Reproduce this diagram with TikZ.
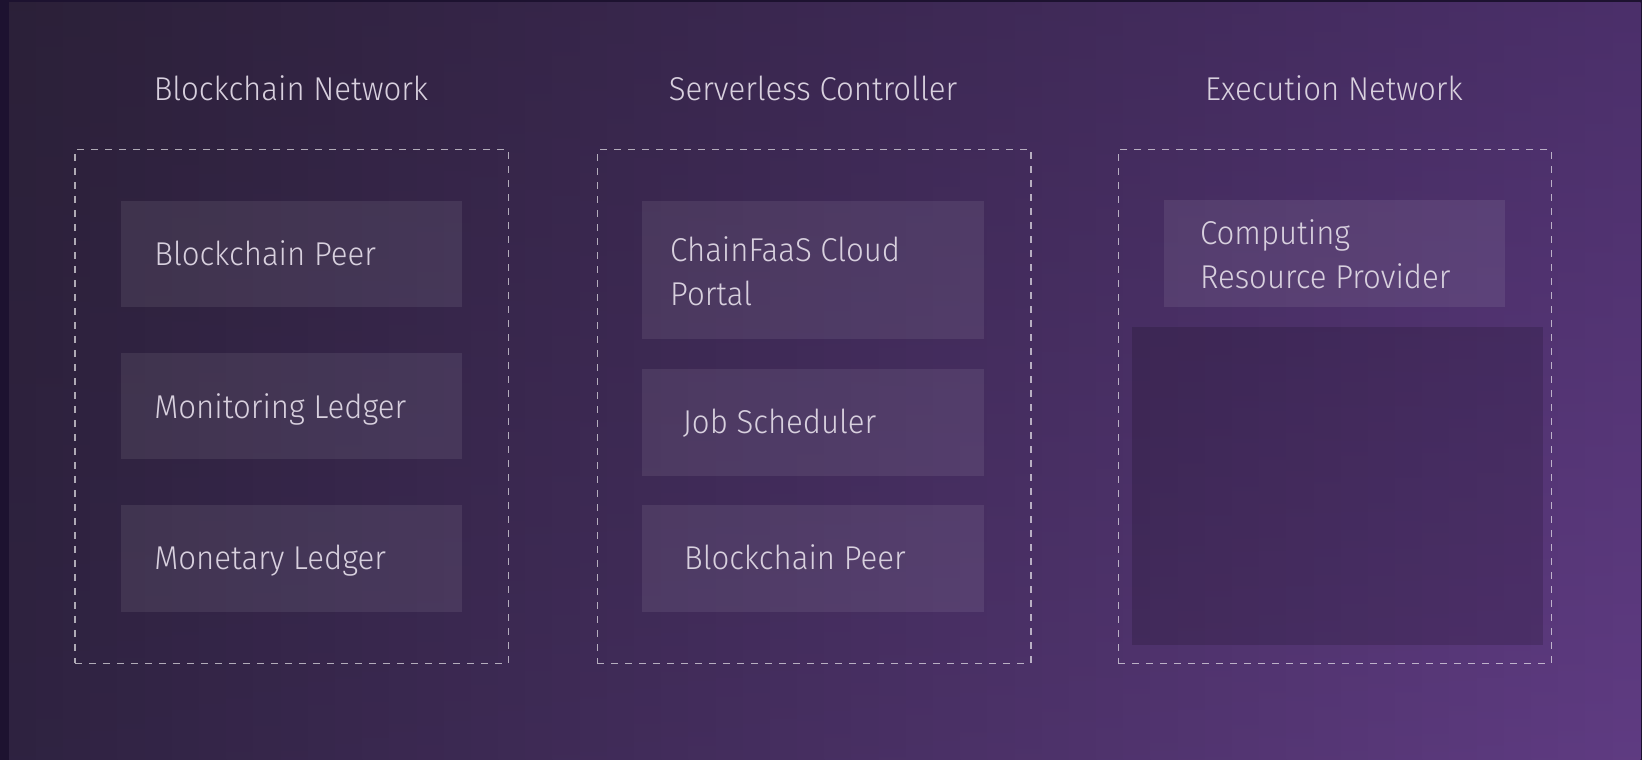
\documentclass[tikz,border=0pt]{standalone}
\usepackage{fontspec}
\setmainfont{Fira Sans Light}[FakeStretch=0.945]
\definecolor{outerbg}{HTML}{1D1230}
\definecolor{bgUL}{HTML}{2B2038}
\definecolor{bgUR}{HTML}{4B2F6A}
\definecolor{bgLL}{HTML}{2E2240}
\definecolor{bgLR}{HTML}{5F3B82}
\definecolor{txt}{HTML}{D8D0DE}
\begin{document}
\begin{tikzpicture}[x=1pt,y=-1pt,
  group/.style={rectangle, draw=white, draw opacity=0.62, line width=1.1pt,
    dash pattern=on 7pt off 7pt, inner sep=0pt, anchor=north west,
    minimum width=433.5pt, minimum height=514.2pt},
  card/.style={rectangle, fill=white, fill opacity=0.08, inner sep=0pt,
    anchor=north west, minimum width=341.7pt},
  darkcard/.style={rectangle, fill=black, fill opacity=0.15, inner sep=0pt,
    anchor=north west},
  lbl/.style={text=txt, inner sep=0pt, anchor=base west,
    font=\fontsize{33}{44}\selectfont},
  ttl/.style={text=txt, inner sep=0pt, anchor=base,
    font=\fontsize{33}{44}\selectfont}]
\useasboundingbox (0,0) rectangle (1642,760);
\fill[outerbg] (0,0) rectangle (1642,760);
% bilinear background gradient built from vertical strips
\foreach \i in {0,...,59}{
  \pgfmathsetmacro{\p}{(\i+0.5)*100/60}
  \pgfmathsetmacro{\xa}{9+\i*27.1833}
  \pgfmathsetmacro{\xb}{9+(\i+1)*27.1833+0.6}
  \colorlet{tc}{bgUR!\p!bgUL}
  \colorlet{bc}{bgLR!\p!bgLL}
  \shade[top color=tc, bottom color=bc] (\xa,3) rectangle (\xb,760);
}

% titles
\node[ttl] (t1) at (291,100.5) {Blockchain Network};
\node[ttl] (t2) at (813,100.5) {Serverless Controller};
\node[ttl] (t3) at (1334,100.5) {Execution Network};

% dashed groups
\node[group] (g1) at (74.4,148.7) {};
\node[group] (g2) at (596.9,148.7) {};
\node[group] (g3) at (1117.5,148.7) {};

% left column
\node[card, minimum height=105.8pt] (b1) at (120.3,201) {};
\node[card, minimum height=106.2pt] (b2) at (120.3,352.8) {};
\node[card, minimum height=106.8pt] (b3) at (120.3,504.8) {};
\node[lbl] (l1) at (154.2,265.7) {Blockchain Peer};
\node[lbl] (l2) at (154.2,418.7) {Monitoring Ledger};
\node[lbl] (l3) at (154.2,569.3) {Monetary Ledger};

% middle column
\node[card, minimum height=138.5pt] (m1) at (641.8,200.5) {};
\node[card, minimum height=106.3pt] (m2) at (641.8,369) {};
\node[card, minimum height=106.3pt] (m3) at (641.8,505) {};
\node[lbl] (ml1) at (670,261) {\begin{tabular}[t]{@{}l@{}}ChainFaaS Cloud\\Portal\end{tabular}};
\node[lbl] (ml2) at (682.7,433.3) {Job Scheduler};
\node[lbl] (ml3) at (684,569.3) {Blockchain Peer};

% right column
\node[card, minimum height=106.7pt] (r1) at (1163.3,200) {};
\node[darkcard, minimum width=411.4pt, minimum height=317.7pt] (r2) at (1131.7,327) {};
\node[lbl] (rl1) at (1199.9,244) {\begin{tabular}[t]{@{}l@{}}Computing\\Resource Provider\end{tabular}};
\end{tikzpicture}
\end{document}
